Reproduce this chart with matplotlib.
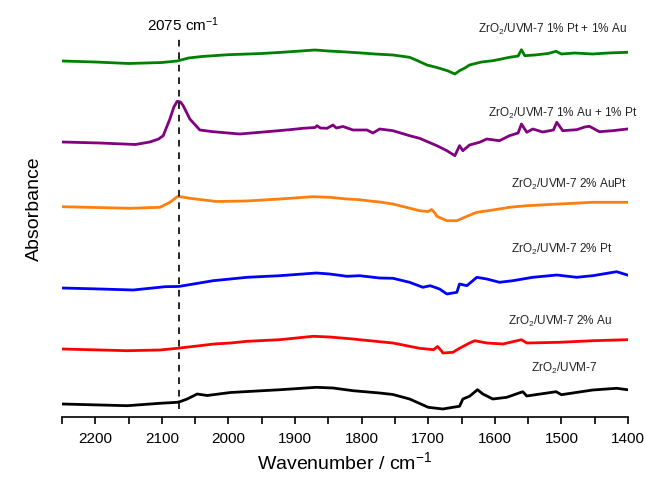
import matplotlib
matplotlib.use("Agg")
import matplotlib.pyplot as plt
from matplotlib.ticker import MultipleLocator

plt.rcParams['font.family'] = ['Liberation Sans', 'DejaVu Sans']
plt.rcParams['mathtext.fontset'] = 'custom'
plt.rcParams['mathtext.rm'] = 'Liberation Sans'
plt.rcParams['mathtext.it'] = 'Liberation Sans'

# ---- data (wavenumber cm-1, offset absorbance a.u.) ----
green_wn = [2250, 2200, 2150, 2100, 2077, 2060, 2040, 2000, 1950, 1920, 1870, 1850, 1830, 1800, 1780,
            1753, 1728, 1715, 1702, 1690, 1683, 1670, 1660, 1653, 1645, 1638, 1620, 1603, 1590, 1578,
            1565, 1560, 1555, 1540, 1520, 1508, 1500, 1480, 1453, 1430, 1401]
green_a = [3.56, 3.55, 3.535, 3.545, 3.56, 3.59, 3.605, 3.623, 3.635, 3.647, 3.67, 3.66, 3.653, 3.64, 3.63,
           3.62, 3.597, 3.56, 3.52, 3.50, 3.487, 3.46, 3.43, 3.463, 3.49, 3.52, 3.55, 3.563, 3.58, 3.597,
           3.61, 3.673, 3.613, 3.62, 3.635, 3.657, 3.63, 3.64, 3.63, 3.64, 3.647]

purple_wn = [2250, 2193, 2140, 2118, 2105, 2098, 2088, 2082, 2077, 2072, 2068, 2058, 2043, 2023, 1983,
             1942, 1908, 1888, 1870, 1867, 1862, 1852, 1843, 1838, 1828, 1813, 1792, 1783, 1773, 1753,
             1728, 1713, 1700, 1687, 1672, 1660, 1653, 1648, 1638, 1623, 1612, 1593, 1578, 1565, 1560,
             1552, 1543, 1528, 1512, 1507, 1498, 1477, 1465, 1458, 1443, 1423, 1401]
purple_a = [2.75, 2.74, 2.725, 2.75, 2.78, 2.813, 2.98, 3.10, 3.157, 3.15, 3.113, 2.98, 2.87, 2.853, 2.83,
            2.853, 2.873, 2.887, 2.895, 2.913, 2.89, 2.887, 2.92, 2.89, 2.905, 2.87, 2.87, 2.84, 2.88, 2.863,
            2.813, 2.787, 2.75, 2.713, 2.663, 2.613, 2.713, 2.663, 2.72, 2.747, 2.78, 2.763, 2.813, 2.84, 2.93,
            2.847, 2.88, 2.85, 2.87, 2.947, 2.863, 2.873, 2.90, 2.907, 2.853, 2.863, 2.88]

orange_wn = [2250, 2148, 2103, 2088, 2076, 2058, 2018, 1973, 1923, 1873, 1848, 1822, 1803, 1788, 1773,
             1753, 1713, 1700, 1695, 1690, 1687, 1672, 1657, 1642, 1627, 1603, 1578, 1552, 1503, 1453, 1401]
orange_a = [2.103, 2.087, 2.097, 2.147, 2.207, 2.187, 2.155, 2.16, 2.18, 2.203, 2.197, 2.18, 2.173, 2.16, 2.15,
            2.13, 2.063, 2.055, 2.075, 2.04, 2.007, 1.963, 1.963, 2.007, 2.047, 2.07, 2.097, 2.113, 2.13, 2.147, 2.147]

blue_wn = [2250, 2193, 2143, 2095, 2077, 2073, 2023, 1972, 1923, 1868, 1848, 1822, 1803, 1773, 1753,
           1728, 1708, 1697, 1683, 1672, 1657, 1653, 1642, 1627, 1612, 1593, 1573, 1543, 1507, 1477,
           1453, 1417, 1401]
blue_a = [1.29, 1.28, 1.27, 1.303, 1.305, 1.307, 1.363, 1.397, 1.413, 1.44, 1.43, 1.407, 1.413, 1.39, 1.387,
          1.347, 1.297, 1.313, 1.28, 1.23, 1.247, 1.33, 1.313, 1.397, 1.38, 1.347, 1.363, 1.397, 1.42, 1.397,
          1.413, 1.453, 1.42]

red_wn = [2250, 2152, 2103, 2077, 2043, 2022, 1997, 1972, 1923, 1873, 1848, 1813, 1803, 1773, 1753,
          1713, 1692, 1686, 1680, 1678, 1663, 1653, 1638, 1630, 1612, 1588, 1560, 1552, 1503, 1453, 1401]
red_a = [0.68, 0.663, 0.67, 0.687, 0.713, 0.73, 0.74, 0.757, 0.773, 0.807, 0.80, 0.78, 0.773, 0.753, 0.74,
         0.687, 0.673, 0.705, 0.66, 0.64, 0.647, 0.687, 0.74, 0.763, 0.74, 0.73, 0.773, 0.74, 0.747, 0.763, 0.773]

black_wn = [2250, 2152, 2103, 2077, 2073, 2062, 2047, 2032, 1997, 1922, 1868, 1843, 1813, 1773, 1753,
            1728, 1700, 1678, 1663, 1653, 1648, 1638, 1626, 1618, 1603, 1582, 1558, 1552, 1508, 1500,
            1453, 1417, 1401]
black_a = [0.13, 0.113, 0.137, 0.147, 0.153, 0.18, 0.23, 0.215, 0.245, 0.273, 0.297, 0.29, 0.263, 0.24, 0.225,
           0.18, 0.097, 0.08, 0.097, 0.107, 0.18, 0.207, 0.273, 0.23, 0.18, 0.197, 0.253, 0.21, 0.253, 0.223,
           0.27, 0.287, 0.273]

labels = ["ZrO$_2$/UVM-7 1% Pt + 1% Au", "ZrO$_2$/UVM-7 1% Au + 1% Pt", "ZrO$_2$/UVM-7 2% AuPt",
          "ZrO$_2$/UVM-7 2% Pt", "ZrO$_2$/UVM-7 2% Au", "ZrO$_2$/UVM-7"]
label_x = [1401, 1386, 1401, 1423, 1423, 1446]
label_y = [3.89, 3.05, 2.34, 1.69, 0.97, 0.50]
colors = ['#008000', '#800080', '#ff7f0e', '#0000ff', '#ff0000', '#000000']
series = [(green_wn, green_a), (purple_wn, purple_a), (orange_wn, orange_a),
          (blue_wn, blue_a), (red_wn, red_a), (black_wn, black_a)]

marker_wn = 2075

fig = plt.figure(figsize=(6.46, 4.81), dpi=100)
ax = fig.add_axes([62/646, 63/481, 566/646, 418/481])

for (wn, a), c in zip(series, colors):
    ax.plot(wn, a, color=c, lw=2.0, solid_joinstyle='round')

for t, x, y in zip(labels, label_x, label_y):
    ax.text(x, y, t, ha='right', va='center', fontsize=8.5, color='#222222', clip_on=False)

ax.plot([marker_wn, marker_wn], [0.08, 3.78], color='black', lw=1.2, ls=(0, (4, 3.5)))
ax.text(2068, 3.93, "2075 cm$^{-1}$", ha='center', va='center', fontsize=11)

ax.set_xlim(2250, 1400)
ax.set_ylim(0, 4.18)
for s in ['left', 'right', 'top']:
    ax.spines[s].set_visible(False)
ax.spines['bottom'].set_linewidth(1.2)
ax.set_yticks([])
ax.xaxis.set_major_locator(MultipleLocator(100))
ax.xaxis.set_minor_locator(MultipleLocator(50))
ax.tick_params(axis='x', which='both', direction='out', length=5, width=1.2, labelsize=11, pad=5)
ax.set_xlabel("Wavenumber / cm$^{-1}$", fontsize=14, labelpad=4)
ax.set_ylabel("Absorbance", fontsize=14, labelpad=14)

fig.savefig("out.png", dpi=100)
